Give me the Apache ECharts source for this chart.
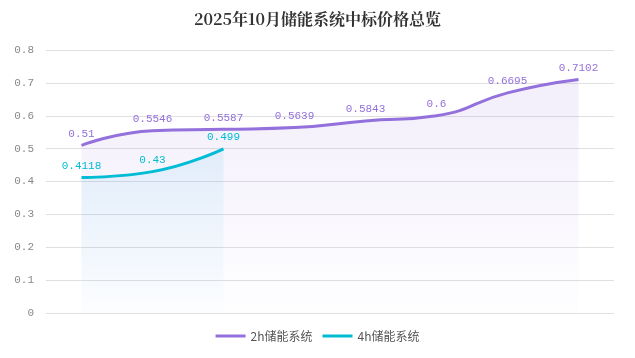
<!DOCTYPE html>
<html><head><meta charset="utf-8">
<script src="https://cdn.jsdelivr.net/npm/echarts@6/dist/echarts.min.js"></script>
<style>html,body{margin:0;padding:0;background:#fff}#c{width:635px;height:358px}</style>
</head><body><div id="c"></div>
<script>
var categories = ['1','2','3','4','5','6','7','8'];
var series2h = [0.51, 0.5546, 0.5587, 0.5639, 0.5843, 0.6, 0.6695, 0.7102];
var series4h = [0.4118, 0.43, 0.499, null, null, null, null, null];
var yTicks = {min: 0, max: 0.8, interval: 0.1};
var names = ['2h储能系统', '4h储能系统'];
var colors = ['#9370DB', '#00BCD4'];

var chart = echarts.init(document.getElementById('c'));
function grad(c1, c2){
  return new echarts.graphic.LinearGradient(0,0,0,1,[{offset:0,color:c1},{offset:1,color:c2}]);
}
var monoFont = 'Liberation Mono, DejaVu Sans Mono, monospace';
chart.setOption({
  backgroundColor: '#fff',
  title: {text: '2025年10月储能系统中标价格总览', left: 'center', top: 6,
    textStyle: {fontFamily: 'Noto Serif CJK SC, Noto Sans CJK SC, serif', fontSize: 16, fontWeight: 'bold', color: '#333'}},
  legend: {bottom: 11, itemWidth: 30, itemHeight: 3, itemGap: 10,
    textStyle: {fontFamily: 'Noto Sans CJK SC, monospace', fontSize: 12, color: '#555'},
    data: names.map(function(n, i){return {name:n, icon:'rect', itemStyle: {color: colors[i], opacity: 1}};})},
  grid: {left: 46, right: 21, top: 50, bottom: 45},
  xAxis: {type: 'category', data: categories, boundaryGap: true,
    axisLine: {show: false}, axisTick: {show: false}, axisLabel: {show: false}},
  yAxis: {type: 'value', min: yTicks.min, max: yTicks.max, interval: yTicks.interval,
    axisLine: {show: false}, axisTick: {show: false},
    axisLabel: {color: '#888', fontFamily: monoFont, fontSize: 11, margin: 12},
    splitLine: {lineStyle: {color: '#e0e0e0'}}},
  series: [
    {name: names[0], type: 'line', smooth: true, data: series2h, showSymbol: true, symbol: 'circle', symbolSize: 2,
      lineStyle: {width: 3, color: colors[0]}, itemStyle: {color: 'rgba(0,0,0,0)', borderWidth: 0},
      label: {show: true, position: 'top', distance: 5, color: colors[0], fontFamily: monoFont, fontSize: 11},
      areaStyle: {color: grad('rgba(147,112,219,0.17)', 'rgba(147,112,219,0.01)')}},
    {name: names[1], type: 'line', smooth: true, data: series4h, showSymbol: true, symbol: 'circle', symbolSize: 2,
      lineStyle: {width: 3, color: colors[1]}, itemStyle: {color: 'rgba(0,0,0,0)', borderWidth: 0},
      label: {show: true, position: 'top', distance: 5, color: colors[1], fontFamily: monoFont, fontSize: 11},
      areaStyle: {color: grad('rgba(0,170,230,0.12)', 'rgba(0,170,230,0.01)')}}
  ]
});
</script></body></html>
